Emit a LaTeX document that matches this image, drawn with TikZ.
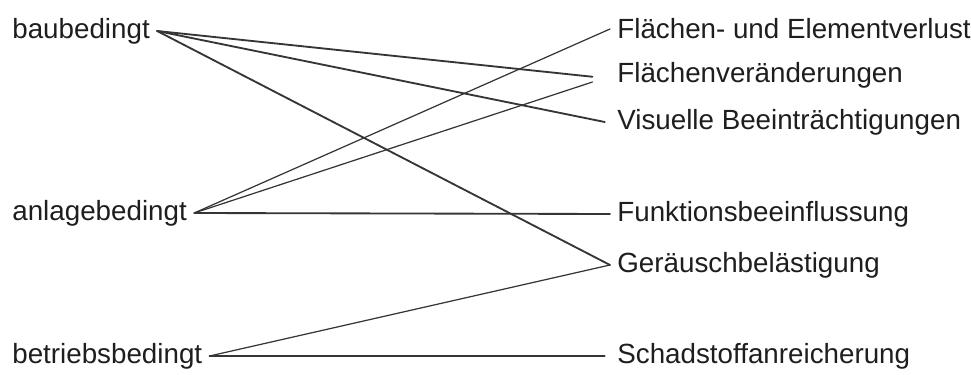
\documentclass[tikz,border=0pt]{standalone}
\usepackage{fontspec}
\setmainfont{Liberation Sans}
\usepackage{tikz}
\usetikzlibrary{positioning}
\definecolor{myink}{RGB}{30,30,30}
\tikzset{
    cause/.style  = {anchor=west, text=myink, inner xsep=4pt, inner ysep=0pt,
            font=\fontsize{15.8pt}{18pt}\selectfont},
    effect/.style = {anchor=west, text=myink, inner xsep=4pt, inner ysep=0pt,
            font=\fontsize{15.8pt}{18pt}\selectfont},
    link/.style   = {draw=myink!90, line width=1.05pt, line cap=round},
    thinlink/.style = {link, line width=0.7pt},
}
\begin{document}
\begin{tikzpicture}[x=0.02cm, y=-0.02cm]
            \useasboundingbox (0,0) rectangle (971,375);
            % Nodes
            \node[cause] (bau)     at (5,31)  {baubedingt};
            \node[cause] (anlage)  at (5,213) {anlagebedingt};
            \node[cause] (betrieb) at (5,356) {betriebsbedingt};

            \node[effect] (verlust)  at (610,29)  {Flächen- und Elementverlust};
            \node[effect] (flaeche)  at (610,75)  {Flächenveränderungen};
            \node[effect] (visuell)  at (610,122) {Visuelle Beeinträchtigungen};
            \node[effect] (funktion) at (610,214) {Funktionsbeeinflussung};
            \node[effect] (laerm)    at (610,265) {Geräuschbelästigung};
            \node[effect] (schad)    at (610,356) {Schadstoffanreicherung};

            % Links
            \draw[link] (bau.east) -- ([xshift=-10pt,yshift=-1pt]flaeche.west);
            \draw[link] (bau.east) -- ([xshift=-3pt]visuell.west);
            \draw[link] (bau.east) -- (laerm.west);
            \draw[thinlink] (anlage.east) -- (verlust.west);
            \draw[thinlink] (anlage.east) -- ([xshift=-10pt,yshift=-4pt]flaeche.west);
            \draw[link] (anlage.east) -- (funktion.west);
            \draw[thinlink] (betrieb.east) -- (laerm.west);
            \draw[link] (betrieb.east) -- ([xshift=-3pt]schad.west);
\end{tikzpicture}
\end{document}
